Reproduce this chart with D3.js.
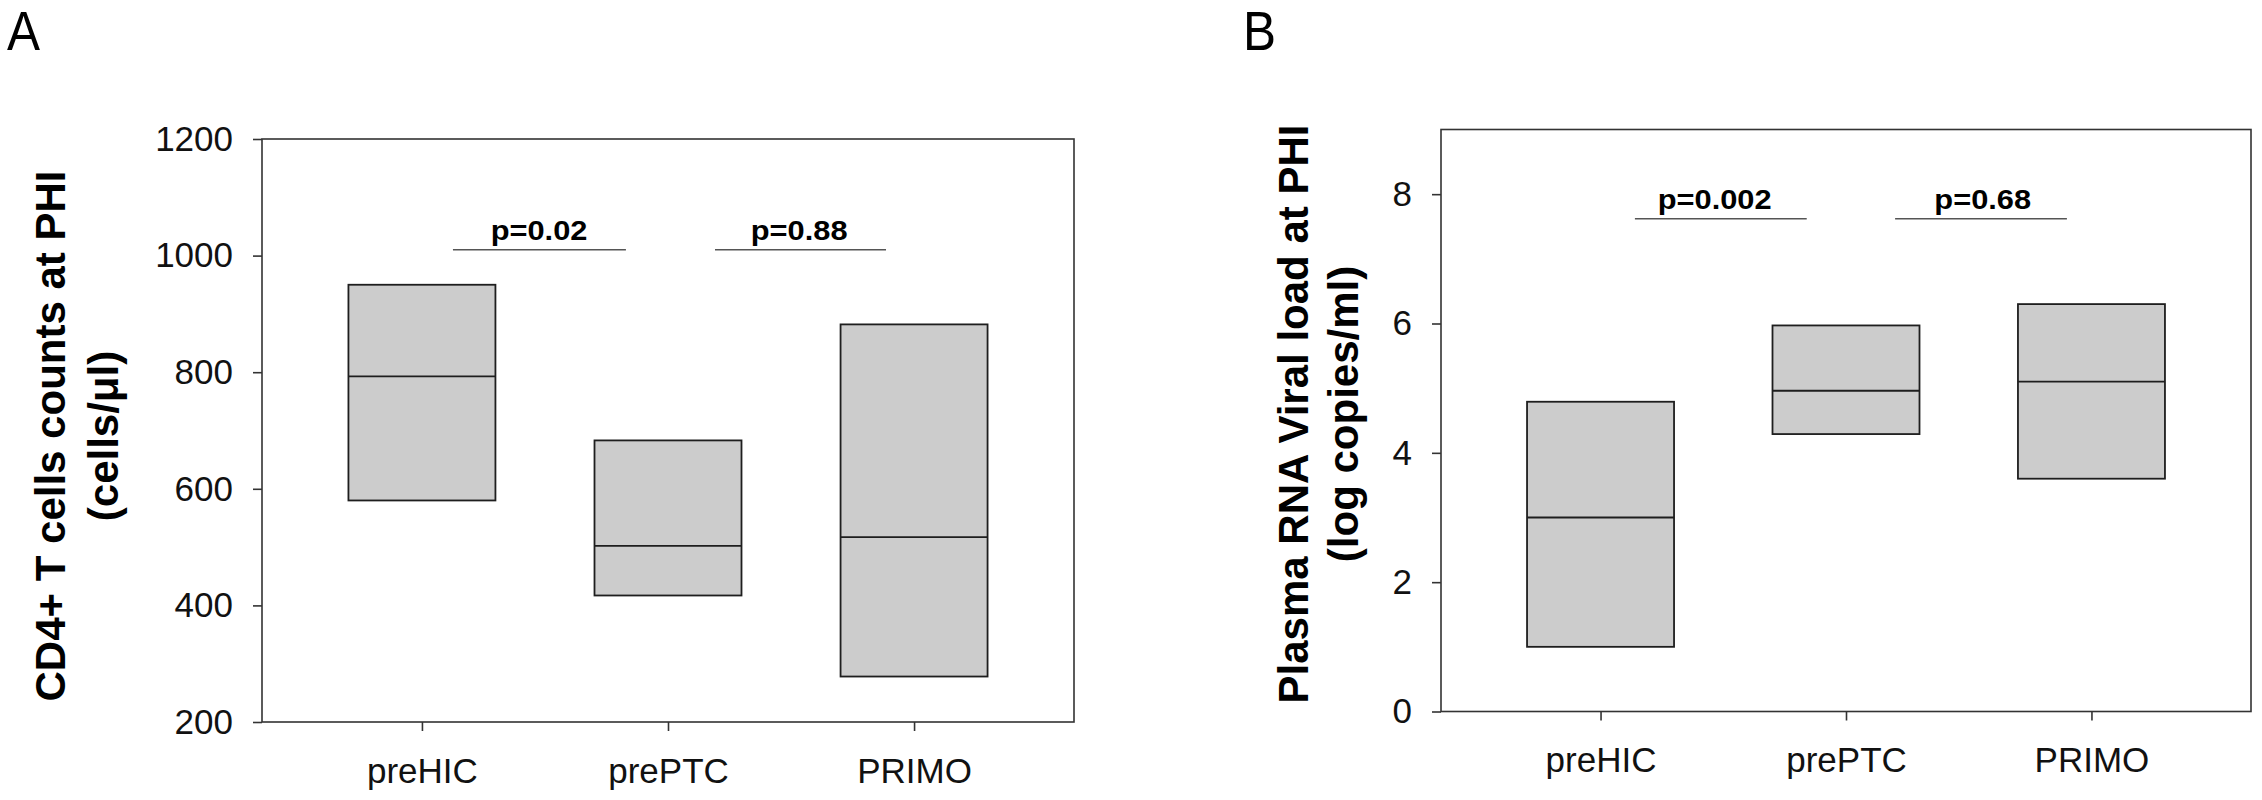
<!DOCTYPE html>
<html>
<head>
<meta charset="utf-8">
<script src="https://cdn.jsdelivr.net/npm/d3@7"></script>
<style>
  body { margin: 0; background: #fff; }
  svg { display: block; font-family: 'Liberation Sans', Arial, sans-serif; }
</style>
</head>
<body>
<svg width="2262" height="800"></svg>
<script>
// groups shared by both panels
const groups = ['preHIC', 'prePTC', 'PRIMO']

// panel A: CD4+ T cell counts (box = 25th / 50th / 75th percentile)
const cd4Low = [580, 417, 278]
const cd4Median = [793, 502, 517]
const cd4High = [950, 683, 882]
const cd4Ticks = [200, 400, 600, 800, 1000, 1200]
const cd4Pvalues = ['p=0.02', 'p=0.88']
const cd4Plevel = 1010

// panel B: plasma viral load
const vlLow = [1.0, 4.29, 3.6]
const vlMedian = [3.0, 4.96, 5.1]
const vlHigh = [4.79, 5.97, 6.3]
const vlTicks = [0, 2, 4, 6, 8]
const vlPvalues = ['p=0.002', 'p=0.68']
const vlPlevel = 7.62

const svg = d3.select('svg')
svg.append('rect').attr('width', 2262).attr('height', 800).attr('fill', '#fff')

function drawPanel (p) {
  const g = svg.append('g')
  const { left, top, width, height } = p
  const x = d3.scalePoint().domain(groups).range([left, left + width]).padding(0.65)
  const xi = d3.scaleLinear().domain([0, groups.length - 1]).range([x(groups[0]), x(groups[groups.length - 1])])
  const y = d3.scaleLinear().domain(p.domain).range([top + height, top])
  const boxW = 147

  const rows = groups.map((name, i) => ({ name, lo: p.low[i], med: p.median[i], hi: p.high[i] }))

  // boxes
  g.selectAll('rect.box').data(rows).join('rect')
    .attr('class', 'box')
    .attr('x', d => x(d.name) - boxW / 2)
    .attr('width', boxW)
    .attr('y', d => y(d.hi))
    .attr('height', d => y(d.lo) - y(d.hi))
    .attr('fill', '#cccccc')
    .attr('stroke', '#1e1e1e')
    .attr('stroke-width', 1.8)
  g.selectAll('line.med').data(rows).join('line')
    .attr('class', 'med')
    .attr('x1', d => x(d.name) - boxW / 2)
    .attr('x2', d => x(d.name) + boxW / 2)
    .attr('y1', d => y(d.med))
    .attr('y2', d => y(d.med))
    .attr('stroke', '#1e1e1e')
    .attr('stroke-width', 1.8)

  // frame
  g.append('rect')
    .attr('x', left).attr('y', top)
    .attr('width', width).attr('height', height)
    .attr('fill', 'none')
    .attr('stroke', '#333')
    .attr('stroke-width', 1.6)

  // axes
  const ya = g.append('g')
    .attr('transform', `translate(${left},0)`)
    .call(d3.axisLeft(y).tickValues(p.ticks).tickFormat(d3.format('d')).tickSize(9).tickPadding(20))
  const xa = g.append('g')
    .attr('transform', `translate(0,${top + height})`)
    .call(d3.axisBottom(x).tickSize(9).tickPadding(27))
  ;[ya, xa].forEach(a => {
    a.select('.domain').remove()
    a.selectAll('line').attr('stroke', '#333').attr('stroke-width', 1.6)
    a.selectAll('text').attr('fill', '#111').attr('font-size', 35).attr('font-family', null)
  })

  // p-value brackets
  p.spans.forEach((s, i) => {
    g.append('line')
      .attr('x1', xi(s[0])).attr('x2', xi(s[1]))
      .attr('y1', y(p.plevel)).attr('y2', y(p.plevel))
      .attr('stroke', '#555').attr('stroke-width', 1.5)
    g.append('text')
      .attr('transform', `translate(${xi(p.labelAt[i])},${y(p.plevel) - 10}) scale(1.1,1)`)
      .attr('text-anchor', 'middle')
      .attr('font-size', 28)
      .attr('font-weight', 'bold')
      .attr('fill', '#000')
      .text(p.pvalues[i])
  })

  // rotated y title, two lines
  p.title.forEach((t, i) => {
    g.append('text')
      .attr('transform', `translate(${p.titleX[i]},${p.titleY}) rotate(-90)`)
      .attr('text-anchor', 'middle')
      .attr('font-size', 42)
      .attr('font-weight', 'bold')
      .attr('fill', '#000')
      .text(t)
  })

  // panel letter
  g.append('text')
    .attr('transform', `translate(${p.letterX},50) scale(0.9,1)`)
    .attr('font-size', 55)
    .attr('fill', '#000')
    .text(p.letter)
}

drawPanel({
  left: 262, top: 139, width: 812, height: 583,
  domain: [200, 1200], ticks: cd4Ticks,
  low: cd4Low, median: cd4Median, high: cd4High,
  pvalues: cd4Pvalues, plevel: cd4Plevel,
  spans: [[0.126, 0.829], [1.191, 1.886]], labelAt: [0.476, 1.533],
  title: ['CD4+ T cells counts at PHI', '(cells/μl)'], titleX: [65, 118], titleY: 436,
  letter: 'A', letterX: 7
})

drawPanel({
  left: 1441, top: 129.5, width: 810, height: 582,
  domain: [0, 9], ticks: vlTicks,
  low: vlLow, median: vlMedian, high: vlHigh,
  pvalues: vlPvalues, plevel: vlPlevel,
  spans: [[0.14, 0.84], [1.2, 1.9]], labelAt: [0.465, 1.557],
  title: ['Plasma RNA Viral load at PHI', '(log copies/ml)'], titleX: [1308, 1358], titleY: 414,
  letter: 'B', letterX: 1243
})
</script>
</body>
</html>
